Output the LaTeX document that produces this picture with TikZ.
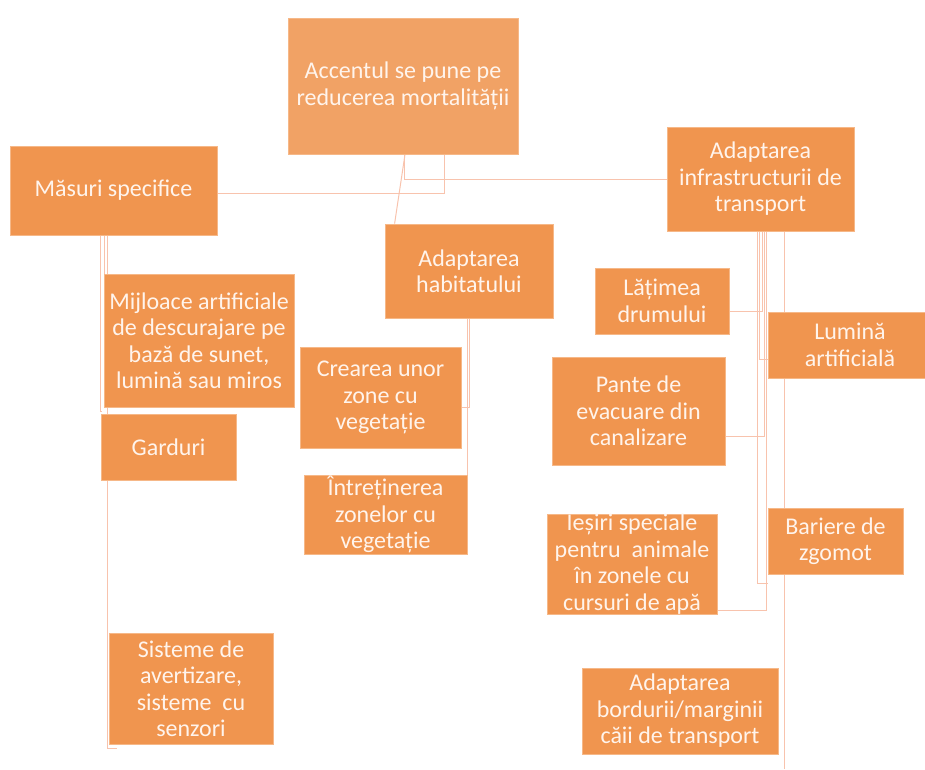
\documentclass[tikz,border=0pt]{standalone}
\usepackage{fontspec}
\setmainfont{Carlito}
\usepackage{tikz}
\usetikzlibrary{positioning, backgrounds}

\definecolor{boxfill}{HTML}{F0954F}
\definecolor{topfill}{HTML}{F1A265}
\definecolor{boxedge}{HTML}{F6B888}
\definecolor{boxtext}{HTML}{FFF4EC}
\definecolor{linkcol}{HTML}{F8C3AD}

\begin{document}
\begin{tikzpicture}[x=1pt, y=-1pt,
  box/.style={rectangle,draw=boxedge,line width=0.8pt,fill=boxfill,text=boxtext,
    align=center,inner sep=0pt,font=\fontsize{24}{26.5}\selectfont},
  link/.style={draw=linkcol,line width=1pt}]

\useasboundingbox (0,0) rectangle (925,769);

% top of the tree
\node[box,fill=topfill,minimum width=230pt,minimum height=136pt] (A) at (403,86) {Accentul se pune pe\\reducerea mortalității};
\node[box,minimum width=207pt,minimum height=89pt] (M) at (113.5,190.5) {Măsuri specifice};
\node[box,minimum width=168pt,minimum height=94pt] (H) at (469,271) {Adaptarea\\habitatului};
\node[box,minimum width=187pt,minimum height=104pt] (I) at (760.5,179) {Adaptarea\\infrastructurii de\\transport};

% left branch
\node[box,minimum width=190pt,minimum height=133pt] (Mij) at (199,340.5) {Mijloace artificiale\\de descurajare pe\\bază de sunet,\\lumină sau miros};
\node[box,minimum width=135pt,minimum height=66pt] (G) at (168.5,447) {Garduri};
\node[box,minimum width=164pt,minimum height=111pt] (S) at (191,688.5) {Sisteme de\\avertizare,\\sisteme\ \ cu\\senzori};

% middle branch
\node[box,minimum width=161pt,minimum height=101pt] (Cr) at (380.5,397.5) {Crearea unor\\zone cu\\vegetație};
\node[box,minimum width=163pt,minimum height=79pt] (In) at (385.5,514.5) {Întreținerea\\zonelor cu\\vegetație};

% right branch
\node[box,minimum width=134pt,minimum height=66pt] (L) at (662,301) {Lățimea\\drumului};
\node[box,minimum width=164pt,minimum height=66pt] (Lu) at (850,345) {Lumină\\artificială};
\node[box,minimum width=173pt,minimum height=108pt] (P) at (638.5,411) {Pante de\\evacuare din\\canalizare};
\node[box,minimum width=135pt,minimum height=66pt] (B) at (835.5,541) {Bariere de\\zgomot};
\node[box,minimum width=170pt,minimum height=100pt] (Ie) at (632,564) {Ieșiri speciale\\pentru\ \ animale\\în zonele cu\\cursuri de apă};
\node[box,minimum width=196pt,minimum height=86pt] (Ab) at (680,711) {Adaptarea\\bordurii/marginii\\căii de transport};
\coordinate (Abend) at (784.5,769);

\begin{scope}[on background layer]
  \draw[link] ([xshift=2pt]A.south) -- ([xshift=10pt]H.north west);
  \draw[link] ([xshift=1pt]A.south) |- (I.west);
  \draw[link] ([xshift=41pt]A.south) |- ([yshift=-3pt]M.east);

  \draw[link] ([xshift=-13pt]M.south) |- ([yshift=2pt]G.north west);
  \draw[link] ([xshift=-9.5pt]M.south) |- (Mij.north west);
  \draw[link] ([xshift=-6pt]M.south) |- ([xshift=8pt,yshift=-4pt]S.south west);

  \draw[link] (H.south) |- ([yshift=-10pt]Cr.east);
  \draw[link] ([xshift=-1.5pt]H.south) |- ([yshift=-25pt]In.east);

  \draw[link] ([xshift=1.5pt]I.south) |- ([yshift=-10pt]L.east);
  \draw[link] ([xshift=-1.5pt]I.south) |- ([yshift=-14pt]Lu.west);
  \draw[link] ([xshift=4pt]I.south) |- ([yshift=-25pt]P.east);
  \draw[link] ([xshift=-3pt]I.south) |- ([yshift=-9pt]B.south west);
  \draw[link] ([xshift=6pt]I.south) |- ([yshift=-46pt]Ie.east);
  \draw[link] ([xshift=24pt]I.south) -- (Abend);
\end{scope}

\end{tikzpicture}
\end{document}
